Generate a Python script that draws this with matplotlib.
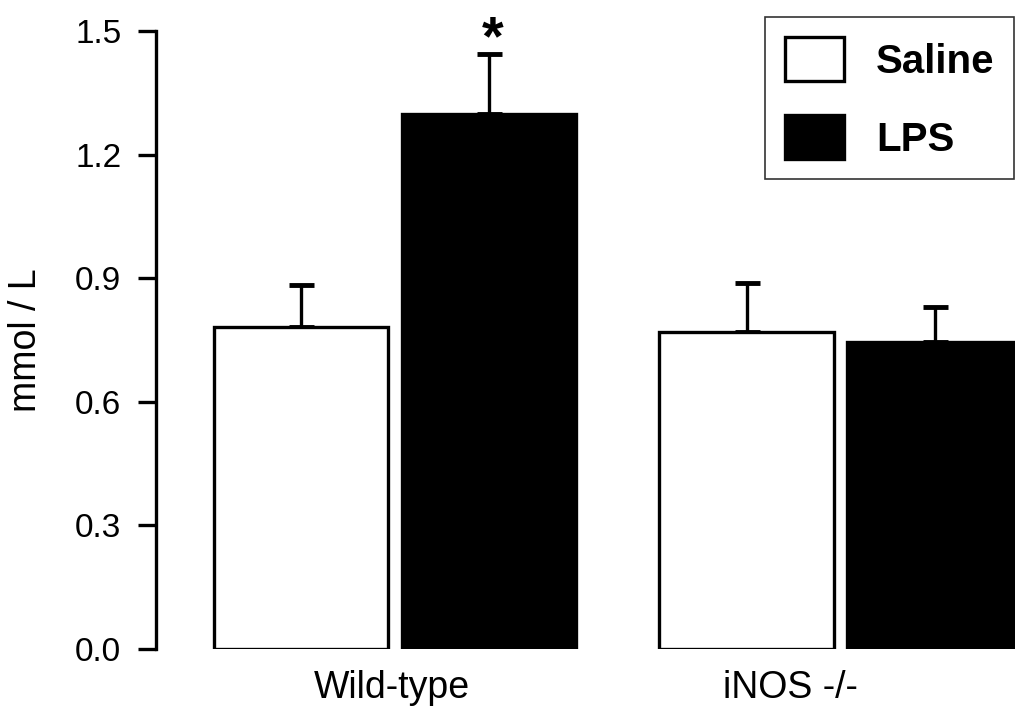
import matplotlib
matplotlib.use('Agg')
import matplotlib.pyplot as plt
from matplotlib.patches import Patch

plt.rcParams['font.family'] = ['Liberation Sans', 'DejaVu Sans']

# dados
groups = ['Wild-type', 'iNOS -/-']
series = ['Saline', 'LPS']
saline = [0.782, 0.769]
lps = [1.299, 0.745]
saline_err = [0.101, 0.119]
lps_err = [0.145, 0.085]
group_pos = [0.0, 2.372]
label_pos = [-0.016, 2.106]

fig = plt.figure(figsize=(10.15, 7.10), dpi=100)
ax = fig.add_axes([0.1537, 0.0859, 0.8463, 0.8704])

w = 0.93
x_sal = [g - 0.5 for g in group_pos]
x_lps = [g + 0.5 for g in group_pos]

ax.bar(x_sal, saline, width=w, color='white', edgecolor='black', linewidth=2.4, zorder=2)
ax.bar(x_lps, lps, width=w, color='black', edgecolor='black', linewidth=2.4, zorder=2)

# barras de erro so para cima
ax.errorbar(x_sal, saline, yerr=[[0, 0], saline_err], fmt='none', ecolor='black',
            elinewidth=2.4, capsize=9, capthick=3.5, zorder=1)
ax.errorbar(x_lps, lps, yerr=[[0, 0], lps_err], fmt='none', ecolor='black',
            elinewidth=2.4, capsize=9, capthick=3.5, zorder=1)

# asterisco
ax.text(x_lps[0] + 0.02, 1.478, '*', ha='center', va='center',
        fontsize=40, fontweight='bold', clip_on=False)

ax.set_xlim(-1.271, 3.298)
ax.set_ylim(0, 1.5)
ax.set_yticks([0.0, 0.3, 0.6, 0.9, 1.2, 1.5])
ax.set_yticklabels(['0.0', '0.3', '0.6', '0.9', '1.2', '1.5'])
ax.set_xticks(label_pos)
ax.set_xticklabels(groups)

for s in ['top', 'right', 'bottom']:
    ax.spines[s].set_visible(False)
ax.spines['left'].set_linewidth(2.4)

ax.tick_params(axis='y', direction='out', length=13, width=2.4, pad=12, labelsize=24)
ax.tick_params(axis='x', length=0, pad=15, labelsize=27)

ax.set_ylabel('mmol / L', fontsize=27, labelpad=22)

handles = [Patch(facecolor='white', edgecolor='black', linewidth=2.4, label=series[0]),
           Patch(facecolor='black', edgecolor='black', linewidth=2.4, label=series[1])]
leg = fig.legend(handles=handles, loc='upper left', bbox_to_anchor=(765 / 1015, 1 - 17 / 710),
                 prop={'size': 29, 'weight': 'bold'}, frameon=True, fancybox=False,
                 edgecolor='black', handlelength=1.45, handleheight=1.3, handletextpad=0.8,
                 borderpad=0.5, labelspacing=0.85, borderaxespad=0)
leg.get_frame().set_linewidth(1.2)

fig.savefig('out.png', dpi=100)
